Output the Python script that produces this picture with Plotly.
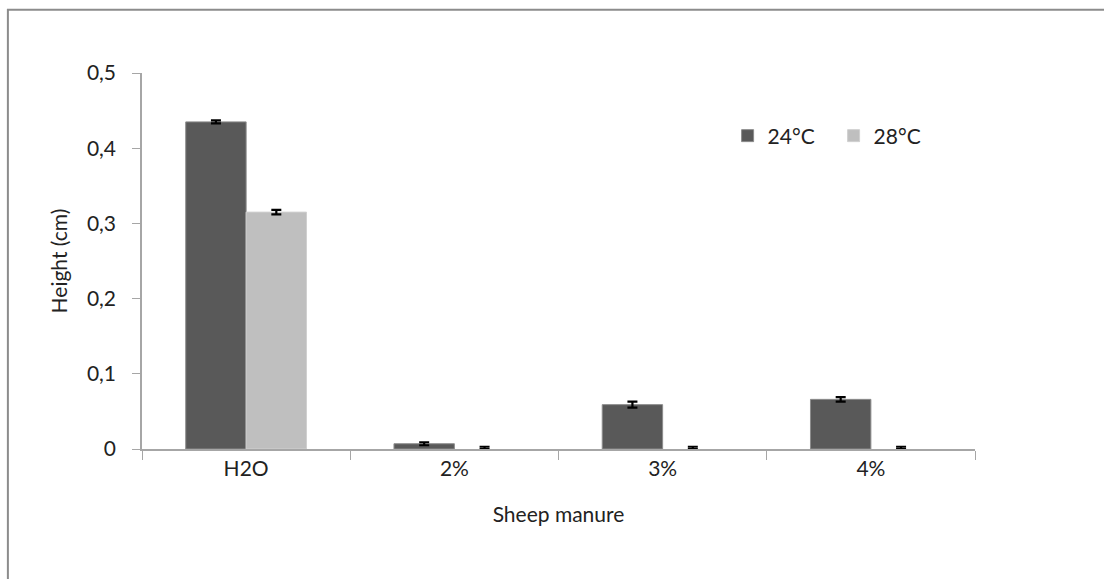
import plotly.graph_objects as go

categories = ["H2O", "2%", "3%", "4%"]
height_24 = [0.435, 0.007, 0.059, 0.066]
err_24 = [0.002, 0.002, 0.004, 0.003]
height_28 = [0.315, 0.0, 0.0, 0.0]
err_28_plus = [0.003, 0.003, 0.003, 0.003]
err_28_minus = [0.003, 0.0, 0.0, 0.0]
y_tick_values = [0, 0.1, 0.2, 0.3, 0.4, 0.5]
y_tick_labels = ["0", "0,1", "0,2", "0,3", "0,4", "0,5"]

FONT = "Lato, 'Open Sans', sans-serif"
AXIS_GREY = "#a6a6a6"
FS = 21

fig = go.Figure()
fig.add_trace(go.Bar(
    x=categories, y=height_24, name="24°C",
    marker=dict(color="#595959", line=dict(color="#8c8c8c", width=1)),
    error_y=dict(type="data", array=err_24, color="black", thickness=2.2, width=5),
))
fig.add_trace(go.Bar(
    x=categories, y=height_28, name="28°C",
    marker=dict(color="#bfbfbf",
                line=dict(color="#d0d0d0", width=[1 if v > 0 else 0 for v in height_28])),
    error_y=dict(type="data", symmetric=False, array=err_28_plus,
                 arrayminus=err_28_minus, color="black", thickness=2.2, width=5),
))

fig.update_layout(
    width=1104, height=579,
    margin=dict(l=142, r=129, t=73, b=130),
    paper_bgcolor="white", plot_bgcolor="white",
    barmode="group", bargap=0.42, bargroupgap=0,
    font=dict(family=FONT, size=FS, color="#222"),
    legend=dict(orientation="h", x=0.703, y=0.887, xanchor="left", yanchor="top",
                font=dict(size=FS), itemwidth=30, traceorder="normal",
                entrywidth=61, entrywidthmode="pixels",
                bgcolor="rgba(0,0,0,0)"),
    showlegend=True,
    shapes=[dict(type="rect", xref="paper", yref="paper",
                 x0=-0.161, x1=1.2, y0=-0.4, y1=1.168,
                 line=dict(color="#8c8c8c", width=2), fillcolor="rgba(0,0,0,0)")],
)
fig.update_xaxes(
    showline=True, linecolor=AXIS_GREY, linewidth=1.5,
    ticks="outside", tickson="boundaries", ticklen=9, tickcolor=AXIS_GREY,
    title=dict(text="Sheep manure", font=dict(size=FS), standoff=28),
    tickfont=dict(size=FS),
)
fig.update_yaxes(
    range=[0, 0.5], tickvals=y_tick_values, ticktext=y_tick_labels,
    showline=True, linecolor=AXIS_GREY, linewidth=1.5,
    ticks="outside", ticklen=8, tickcolor=AXIS_GREY, ticklabelstandoff=12,
    showgrid=False, zeroline=False,
    title=dict(text="Height (cm)", font=dict(size=FS), standoff=14),
    tickfont=dict(size=FS),
)

fig.write_html("out.html")
